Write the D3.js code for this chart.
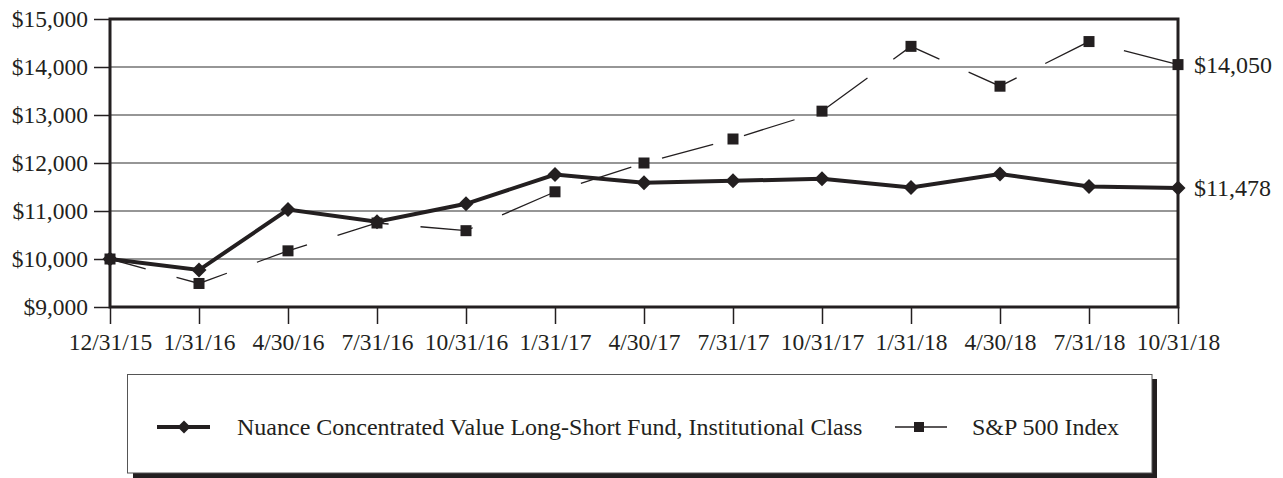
<!DOCTYPE html>
<html>
<head>
<meta charset="utf-8">
<script src="https://cdn.jsdelivr.net/npm/d3@7/dist/d3.min.js"></script>
<style>
  html, body { margin: 0; padding: 0; background: #fff; }
  svg { display: block; }
  text { font-family: "Liberation Serif", "Times New Roman", serif; fill: #231f20; }
</style>
</head>
<body>
<svg id="chart" width="1283" height="478"></svg>
<script>
const dates = ["12/31/15","1/31/16","4/30/16","7/31/16","10/31/16","1/31/17","4/30/17","7/31/17","10/31/17","1/31/18","4/30/18","7/31/18","10/31/18"];
const fundValues = [10000, 9770, 11030, 10775, 11150, 11760, 11590, 11630, 11670, 11490, 11770, 11510, 11478];
const spValues = [10000, 9490, 10170, 10750, 10590, 11400, 12000, 12500, 13080, 14430, 13600, 14530, 14050];
const yTicks = [9000, 10000, 11000, 12000, 13000, 14000, 15000];
const seriesNames = ["Nuance Concentrated Value Long-Short Fund, Institutional Class", "S&P 500 Index"];
const endLabels = ["$11,478", "$14,050"];

const svg = d3.select("#chart");
const pL = 110, pR = 1178, pT = 19, pB = 307;
const ink = "#231f20";

const x = d3.scalePoint().domain(dates).range([pL, pR]);
const y = d3.scaleLinear().domain([9000, 15000]).range([pB, pT]);
const fmt = v => "$" + d3.format(",")(v);

// gridlines
svg.append("g").selectAll("line").data(yTicks).join("line")
  .attr("x1", pL).attr("x2", pR)
  .attr("y1", d => y(d)).attr("y2", d => y(d))
  .attr("stroke", "#2e2e2e").attr("stroke-width", 1.1);

// y axis
const yAxis = svg.append("g").attr("transform", `translate(${pL},0)`)
  .call(d3.axisLeft(y).tickValues(yTicks).tickFormat(fmt).tickSize(16).tickPadding(6));
yAxis.select(".domain").remove();
yAxis.selectAll("line").attr("stroke", ink).attr("stroke-width", 1.5);
yAxis.selectAll("text").attr("font-size", 23.5).attr("fill", ink)
  .attr("font-family", "Liberation Serif");

// x axis
const xAxis = svg.append("g").attr("transform", `translate(0,${pB})`)
  .call(d3.axisBottom(x).tickSize(17).tickPadding(9));
xAxis.select(".domain").remove();
xAxis.selectAll("line").attr("stroke", ink).attr("stroke-width", 1.5);
xAxis.selectAll("text").attr("font-size", 23.5).attr("fill", ink)
  .attr("font-family", "Liberation Serif");

// frame
svg.append("rect").attr("x", pL).attr("y", pT).attr("width", pR - pL).attr("height", pB - pT)
  .attr("fill", "none").attr("stroke", ink).attr("stroke-width", 3);

// S&P line
const line = d3.line().x((d, i) => x(dates[i])).y(d => y(d));
svg.append("path").datum(spValues).attr("d", line)
  .attr("fill", "none").attr("stroke", ink).attr("stroke-width", 1.3)
  .attr("stroke-dasharray", "53,32").attr("stroke-dashoffset", 16);

// Fund line
svg.append("path").datum(fundValues).attr("d", line)
  .attr("fill", "none").attr("stroke", ink).attr("stroke-width", 4).attr("stroke-linejoin", "miter");

// markers
const sq = 11;
svg.append("g").selectAll("rect").data(spValues).join("rect")
  .attr("x", (d, i) => x(dates[i]) - sq / 2).attr("y", d => y(d) - sq / 2)
  .attr("width", sq).attr("height", sq).attr("fill", ink);

const dm = 7.5;
svg.append("g").selectAll("path").data(fundValues).join("path")
  .attr("d", (d, i) => {
    const cx = x(dates[i]), cy = y(d);
    return `M${cx},${cy - dm}L${cx + dm},${cy}L${cx},${cy + dm}L${cx - dm},${cy}Z`;
  })
  .attr("fill", ink);

// end labels
svg.append("text").attr("x", pR + 16).attr("y", y(fundValues[fundValues.length - 1]))
  .attr("dy", "0.35em").attr("font-size", 24).text(endLabels[0]);
svg.append("text").attr("x", pR + 16).attr("y", y(spValues[spValues.length - 1]))
  .attr("dy", "0.35em").attr("font-size", 24).text(endLabels[1]);

// legend
const lg = svg.append("g");
lg.append("rect").attr("x", 133).attr("y", 379).attr("width", 1024).attr("height", 99).attr("fill", ink);
lg.append("rect").attr("x", 127.5).attr("y", 374.5).attr("width", 1024.5).attr("height", 98.5)
  .attr("fill", "#fff").attr("stroke", "#555").attr("stroke-width", 1);

const ly = 427;
lg.append("line").attr("x1", 157).attr("x2", 210).attr("y1", ly).attr("y2", ly)
  .attr("stroke", ink).attr("stroke-width", 4);
lg.append("path").attr("d", `M184,${ly - 6.5}L190.5,${ly}L184,${ly + 6.5}L177.5,${ly}Z`).attr("fill", ink);
lg.append("text").attr("x", 237).attr("y", ly).attr("dy", "0.35em").attr("font-size", 24).text(seriesNames[0]);

lg.append("line").attr("x1", 895).attr("x2", 947).attr("y1", ly).attr("y2", ly)
  .attr("stroke", ink).attr("stroke-width", 1.3);
lg.append("rect").attr("x", 914).attr("y", ly - 5).attr("width", 10).attr("height", 10).attr("fill", ink);
lg.append("text").attr("x", 972).attr("y", ly).attr("dy", "0.35em").attr("font-size", 24).text(seriesNames[1]);
</script>
</body>
</html>
